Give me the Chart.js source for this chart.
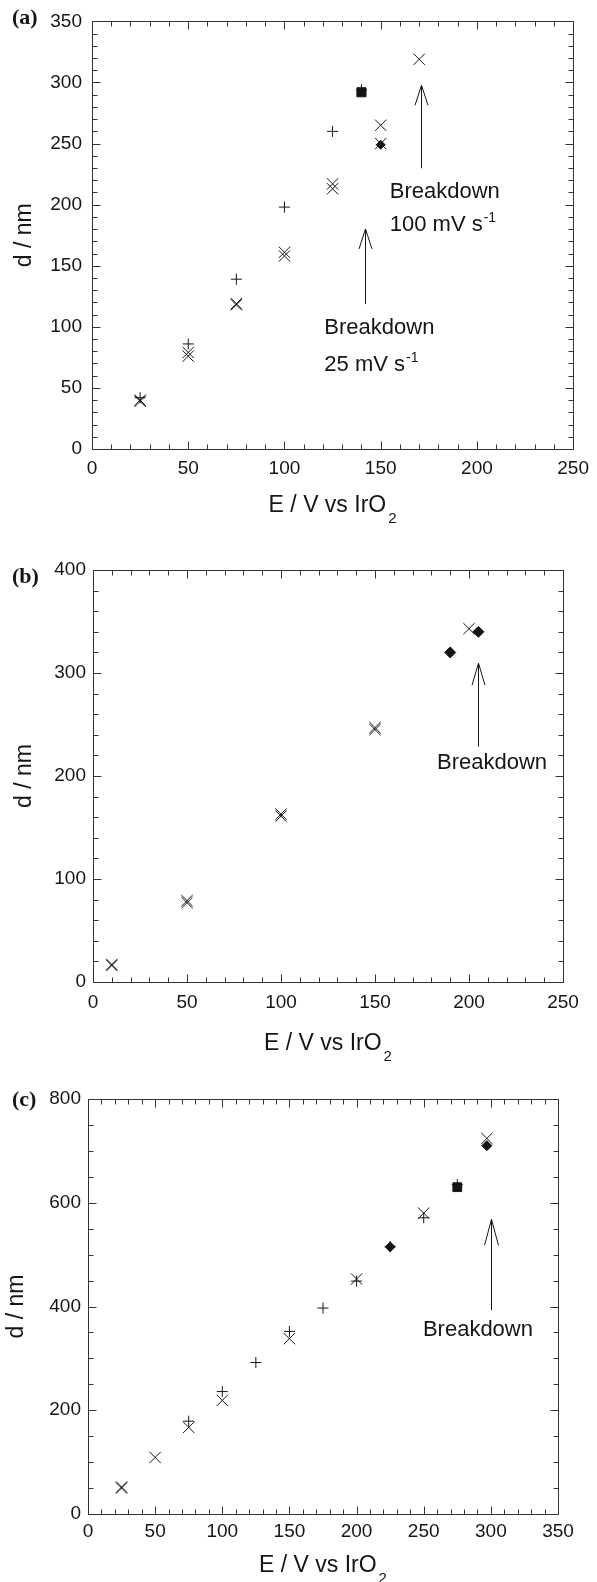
<!DOCTYPE html>
<html>
<head>
<meta charset="utf-8">
<script src="https://cdn.jsdelivr.net/npm/chart.js@4.4.0/dist/chart.umd.min.js"></script>
<style>
html,body{margin:0;padding:0;background:#fff;}
body{width:597px;height:1582px;position:relative;overflow:hidden;}
canvas{position:absolute;left:0;}
</style>
</head>
<body>
<canvas id="ca" width="597" height="535" style="top:0px;width:597px;height:535px"></canvas>
<canvas id="cb" width="597" height="530" style="top:540px;width:597px;height:530px"></canvas>
<canvas id="cc" width="597" height="507" style="top:1075px;width:597px;height:507px"></canvas>
<script>
// ---------- Panel (a) data ----------
const aPlusX    = [25, 50, 75, 100, 125, 140];
const aPlusY    = [42, 86, 139, 198, 260, 294];
const aCrossAX  = [25, 50, 75, 100, 125, 150, 170];
const aCrossAY  = [39, 79, 118, 161, 217, 265, 319];
const aCrossBX  = [25, 50, 75, 100, 125, 150];
const aCrossBY  = [40, 76, 119, 158, 213, 250];
const aSquareX  = [140];
const aSquareY  = [292];
const aDiamondX = [150];
const aDiamondY = [249];
const aXTicks   = [0, 50, 100, 150, 200, 250];
const aYTicks   = [0, 50, 100, 150, 200, 250, 300, 350];

// ---------- Panel (b) data ----------
const bCrossAX  = [10, 50, 100, 150, 200];
const bCrossAY  = [17, 79, 163, 247, 343];
const bCrossBX  = [10, 50, 100, 150];
const bCrossBY  = [16, 77, 161, 245];
const bDiamondX = [190, 205];
const bDiamondY = [320, 340];
const bXTicks   = [0, 50, 100, 150, 200, 250];
const bYTicks   = [0, 100, 200, 300, 400];

// ---------- Panel (c) data ----------
const cPlusX    = [75, 100, 125, 150, 175, 200, 225, 250, 275];
const cPlusY    = [179, 236, 292, 352, 397, 449, 515, 571, 635];
const cCrossAX  = [25, 50, 75, 100, 150, 200, 250, 297];
const cCrossAY  = [50, 109, 167, 219, 338, 453, 580, 724];
const cCrossBX  = [25];
const cCrossBY  = [52];
const cDiamondX = [225, 297];
const cDiamondY = [515, 710];
const cSquareX  = [275];
const cSquareY  = [630];
const cXTicks   = [0, 50, 100, 150, 200, 250, 300, 350];
const cYTicks   = [0, 200, 400, 600, 800];

const INK = '#151515';
const SANS = '"Liberation Sans", Arial, Helvetica, sans-serif';
Chart.defaults.font.family = SANS;

function pts(xs, ys) { return xs.map((x, i) => ({x: x, y: ys[i]})); }
function ds(xs, ys, style, r, filled) {
  return {
    data: pts(xs, ys), pointStyle: style, pointRadius: r, pointHoverRadius: r,
    borderColor: INK, backgroundColor: filled ? INK : 'rgba(0,0,0,0)',
    pointBorderWidth: 1, borderWidth: 1, showLine: false
  };
}

const framePlugin = {
  id: 'frame',
  afterDraw(chart, args, o) {
    const ctx = chart.ctx, a = chart.chartArea, x = chart.scales.x, y = chart.scales.y;
    ctx.save();
    ctx.strokeStyle = '#333';
    ctx.lineWidth = 1;
    const L = Math.round(a.left) + 0.5, R = Math.round(a.right) + 0.5;
    const T = Math.round(a.top) + 0.5, B = Math.round(a.bottom) + 0.5;
    ctx.beginPath();
    ctx.rect(L, T, R - L, B - T);
    ctx.stroke();
    ctx.beginPath();
    const isMaj = (v, m) => Math.abs(v / m - Math.round(v / m)) < 1e-6;
    for (let v = x.min; v <= x.max + 1e-9; v += o.xMinor) {
      const len = isMaj(v, o.xMajor) ? 8 : 5;
      const px = Math.round(x.getPixelForValue(v)) + 0.5;
      ctx.moveTo(px, B); ctx.lineTo(px, B - len);
      ctx.moveTo(px, T); ctx.lineTo(px, T + len);
    }
    for (let v = y.min; v <= y.max + 1e-9; v += o.yMinor) {
      const len = isMaj(v, o.yMajor) ? 8 : 5;
      const py = Math.round(y.getPixelForValue(v)) + 0.5;
      ctx.moveTo(L, py); ctx.lineTo(L + len, py);
      ctx.moveTo(R, py); ctx.lineTo(R - len, py);
    }
    ctx.stroke();
    ctx.restore();
  }
};

function textSup(ctx, x, y, main, sup) {
  ctx.font = '22px ' + SANS;
  ctx.fillText(main, x, y);
  if (sup) {
    const w = ctx.measureText(main).width;
    ctx.font = '14px ' + SANS;
    ctx.fillText(sup, x + w + 1, y - 9);
  }
}

const notesPlugin = {
  id: 'notes',
  afterDraw(chart, args, o) {
    const ctx = chart.ctx, a = chart.chartArea, x = chart.scales.x, y = chart.scales.y;
    ctx.save();
    ctx.fillStyle = INK;
    ctx.strokeStyle = INK;
    ctx.textAlign = 'left';
    ctx.textBaseline = 'alphabetic';
    // panel label
    ctx.font = 'bold 22px "Liberation Serif", "Times New Roman", serif';
    ctx.fillText(o.panel, o.panelX, o.panelY);
    // y title
    ctx.save();
    ctx.translate(o.yTitleX, (a.top + a.bottom) / 2);
    ctx.rotate(-Math.PI / 2);
    ctx.textAlign = 'center';
    ctx.font = '23px ' + SANS;
    ctx.fillText('d / nm', 0, 0);
    ctx.restore();
    // x title with subscript
    ctx.font = '23px ' + SANS;
    const main = 'E / V vs IrO';
    const w1 = ctx.measureText(main).width;
    ctx.font = '15px ' + SANS;
    const w2 = ctx.measureText('2').width;
    const start = (a.left + a.right) / 2 - (w1 + 2 + w2) / 2;
    const by = a.bottom + o.xTitleOff;
    ctx.font = '23px ' + SANS;
    ctx.fillText(main, start, by);
    ctx.font = '15px ' + SANS;
    ctx.fillText('2', start + w1 + 2, by + 11);
    // arrows
    ctx.lineWidth = 1;
    (o.arrows || []).forEach(ar => {
      const px = Math.round(x.getPixelForValue(ar.x)) + 0.5;
      const y0 = y.getPixelForValue(ar.from), y1 = y.getPixelForValue(ar.to);
      ctx.beginPath();
      ctx.moveTo(px, y0); ctx.lineTo(px, y1);
      ctx.moveTo(px - ar.hw, y1 + ar.hl); ctx.lineTo(px, y1); ctx.lineTo(px + ar.hw, y1 + ar.hl);
      ctx.stroke();
    });
    // texts
    (o.texts || []).forEach(t => {
      textSup(ctx, x.getPixelForValue(t.x), y.getPixelForValue(t.y), t.text, t.sup);
    });
    ctx.restore();
  }
};

function makeChart(id, c) {
  return new Chart(document.getElementById(id), {
    type: 'scatter',
    data: { datasets: c.datasets },
    options: {
      responsive: false, animation: false, devicePixelRatio: 1, events: [],
      layout: { padding: { left: 0, right: c.padRight, top: c.padTop, bottom: 0 } },
      plugins: {
        legend: { display: false }, tooltip: { enabled: false },
        frame: c.frame, notes: c.notes
      },
      scales: {
        x: {
          type: 'linear', position: 'bottom', min: c.xMin, max: c.xMax,
          grid: { display: false, drawTicks: false }, border: { display: false },
          ticks: { color: INK, font: { size: 19, family: SANS }, padding: c.xPad, maxRotation: 0, autoSkip: false },
          afterBuildTicks: s => { s.ticks = c.xTicks.map(v => ({ value: v })); },
          afterFit: s => { s.height = c.xAxisH; }
        },
        y: {
          type: 'linear', position: 'left', min: c.yMin, max: c.yMax,
          grid: { display: false, drawTicks: false }, border: { display: false },
          ticks: { color: INK, font: { size: 19, family: SANS }, padding: c.yPad, autoSkip: false },
          afterBuildTicks: s => { s.ticks = c.yTicks.map(v => ({ value: v })); },
          afterFit: s => { s.width = c.yAxisW; }
        }
      }
    },
    plugins: [framePlugin, notesPlugin]
  });
}

// Panel (a): plot 92..580, 19..449 (canvas top 0)
makeChart('ca', {
  datasets: [
    ds(aPlusX, aPlusY, 'cross', 5.5, false),
    ds(aCrossAX, aCrossAY, 'crossRot', 8, false),
    ds(aCrossBX, aCrossBY, 'crossRot', 8, false),
    ds(aSquareX, aSquareY, 'rect', 6.4, true),
    ds(aDiamondX, aDiamondY, 'rectRot', 4.5, true)
  ],
  xMin: 0, xMax: 250, yMin: 0, yMax: 350, xTicks: aXTicks, yTicks: aYTicks,
  padRight: 17, padTop: 19, xAxisH: 535 - 449, yAxisW: 92, xPad: 8, yPad: 10,
  frame: { xMajor: 50, xMinor: 10, yMajor: 50, yMinor: 10 },
  notes: {
    panel: '(a)', panelX: 12, panelY: 24, yTitleX: 31, xTitleOff: 63,
    arrows: [
      { x: 170.7, from: 229.8, to: 297.7, hl: 20, hw: 6.5 },
      { x: 142, from: 118.6, to: 180.1, hl: 20, hw: 6.5 }
    ],
    texts: [
      { x: 154.7, y: 205.4, text: 'Breakdown' },
      { x: 154.7, y: 178.3, text: '100 mV s', sup: '-1' },
      { x: 120.7, y: 94.4, text: 'Breakdown' },
      { x: 120.7, y: 63.7, text: '25 mV s', sup: '-1' }
    ]
  }
});

// Panel (b): plot 93..563, 570..982 (canvas top 540)
makeChart('cb', {
  datasets: [
    ds(bCrossAX, bCrossAY, 'crossRot', 8, false),
    ds(bCrossBX, bCrossBY, 'crossRot', 8, false),
    ds(bDiamondX, bDiamondY, 'rectRot', 5.5, true)
  ],
  xMin: 0, xMax: 250, yMin: 0, yMax: 400, xTicks: bXTicks, yTicks: bYTicks,
  padRight: 34, padTop: 30, xAxisH: 1070 - 982, yAxisW: 93, xPad: 9, yPad: 7,
  frame: { xMajor: 50, xMinor: 10, yMajor: 100, yMinor: 20 },
  notes: {
    panel: '(b)', panelX: 12, panelY: 583 - 540, yTitleX: 31, xTitleOff: 68,
    arrows: [ { x: 205, from: 228.5, to: 309.5, hl: 22, hw: 6.5 } ],
    texts: [ { x: 183, y: 206.8, text: 'Breakdown' } ]
  }
});

// Panel (c): plot 88..558, 1099..1514 (canvas top 1075)
makeChart('cc', {
  datasets: [
    ds(cPlusX, cPlusY, 'cross', 5.5, false),
    ds(cCrossAX, cCrossAY, 'crossRot', 8, false),
    ds(cCrossBX, cCrossBY, 'crossRot', 8, false),
    ds(cDiamondX, cDiamondY, 'rectRot', 5, true),
    ds(cSquareX, cSquareY, 'rect', 6.2, true)
  ],
  xMin: 0, xMax: 350, yMin: 0, yMax: 800, xTicks: cXTicks, yTicks: cYTicks,
  padRight: 39, padTop: 24, xAxisH: 1582 - 1514, yAxisW: 88, xPad: 6.5, yPad: 7,
  frame: { xMajor: 50, xMinor: 10, yMajor: 200, yMinor: 50 },
  notes: {
    panel: '(c)', panelX: 12, panelY: 1106 - 1075, yTitleX: 23, xTitleOff: 58,
    arrows: [ { x: 300, from: 393, to: 568, hl: 26, hw: 7 } ],
    texts: [ { x: 249.4, y: 343, text: 'Breakdown' } ]
  }
});
</script>
</body>
</html>
